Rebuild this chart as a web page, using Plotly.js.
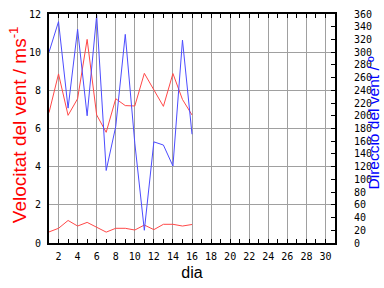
<!DOCTYPE html>
<html><head><meta charset="utf-8">
<script src="https://cdn.plot.ly/plotly-3.0.1.min.js"></script>
<style>html,body{margin:0;padding:0;background:#fff}#c{width:384px;height:288px}</style>
</head><body><div id="c"></div>
<script>
const dies = [1,2,3,4,5,6,7,8,9,10,11,12,13,14,15,16];
const velMax = [6.83,8.86,6.69,7.56,10.67,6.71,5.80,7.56,7.20,7.18,8.89,7.99,7.16,8.88,7.52,6.71];
const velMitja = [0.58,0.77,1.18,0.89,1.08,0.81,0.57,0.77,0.77,0.68,0.94,0.70,0.98,0.98,0.89,0.97];
const direccio = [300,348,212,336,200,358,114,183,328,157,20,159,154,121,319,171];
const xTicks = [2,4,6,8,10,12,14,16,18,20,22,24,26,28,30];

const red = '#ff4848', blue = '#4c4cff';
const tickFont = {family:'DejaVu Sans Mono', size:10, color:'#000'};
const data = [
  {x:dies, y:velMax, type:'scatter', mode:'lines', line:{color:red, width:1}, xaxis:'x', yaxis:'y'},
  {x:dies, y:velMitja, type:'scatter', mode:'lines', line:{color:red, width:1}, xaxis:'x', yaxis:'y'},
  {x:dies, y:direccio, type:'scatter', mode:'lines', line:{color:blue, width:1}, xaxis:'x', yaxis:'y2'}
];
const layout = {
  width:384, height:288, showlegend:false,
  paper_bgcolor:'#fff', plot_bgcolor:'#fff',
  margin:{l:49, r:49, t:14, b:45},
  xaxis:{range:[1,31], tickvals:xTicks, ticktext:xTicks.map(String), showgrid:true, gridcolor:'#a0a0a0', gridwidth:1,
    zeroline:false, showline:true, linecolor:'#000', linewidth:2, mirror:'ticks', ticks:'inside', ticklen:4, tickcolor:'#000',
    minor:{dtick:1, tick0:0, ticks:'inside', ticklen:4, tickcolor:'#000', showgrid:false},
    tickfont:tickFont, ticklabelstandoff:3,
    title:{text:'dia', font:{family:'Liberation Sans', size:16, color:'#000'}, standoff:6}},
  yaxis:{range:[0,12], dtick:2, tick0:0, showgrid:true, gridcolor:'#a0a0a0', gridwidth:1, zeroline:false,
    showline:true, linecolor:'#000', linewidth:2, mirror:true, ticks:'', tickfont:tickFont, ticklabelstandoff:4},
  yaxis2:{range:[0,360], dtick:20, tick0:0, overlaying:'y', side:'right', showgrid:false, zeroline:false,
    showline:false, ticks:'inside', ticklen:4, tickcolor:'#000', tickfont:tickFont, ticklabelstandoff:18},
  annotations:[
    {text:'Velocitat del vent / ms<sup>-1</sup>', xref:'paper', yref:'paper', x:-0.108, y:0.515, xanchor:'center', yanchor:'middle',
     textangle:-90, showarrow:false, font:{family:'Liberation Sans', size:19, color:'#ff0000'}},
    {text:'Direcció del vent / º', xref:'paper', yref:'paper', x:1.133, y:0.522, xanchor:'center', yanchor:'middle',
     textangle:-90, showarrow:false, font:{family:'Liberation Sans', size:15.5, color:'#0000ff'}}
  ]
};
Plotly.newPlot('c', data, layout, {staticPlot:true, displayModeBar:false});
</script></body></html>
